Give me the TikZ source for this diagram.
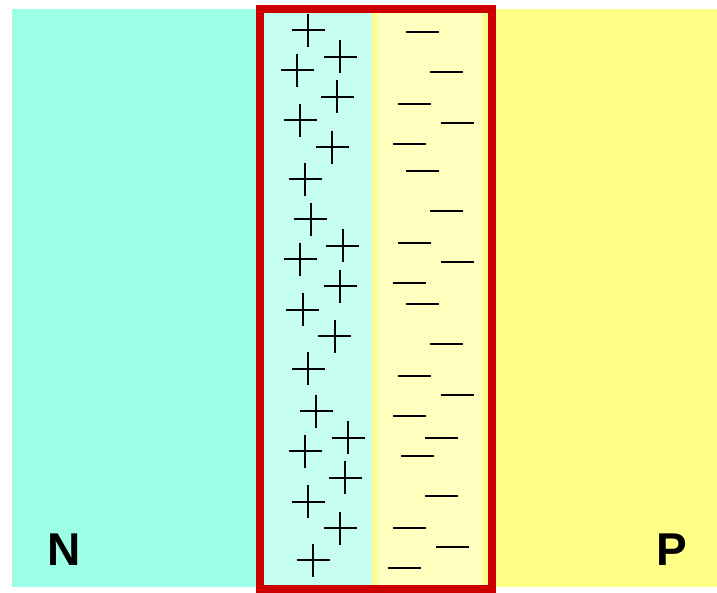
\documentclass[tikz,border=0pt]{standalone}
\usepackage{fontspec}
\setmainfont{Liberation Sans}
\definecolor{ncol}{RGB}{156,255,230}
\definecolor{ncolL}{RGB}{198,255,240}
\definecolor{pcol}{RGB}{255,255,136}
\definecolor{pcolL}{RGB}{255,255,192}
\definecolor{redframe}{RGB}{204,0,0}
\begin{document}
\begin{tikzpicture}[x=1pt,y=-1pt,
  charge/.style={black,line width=1.7pt},
  label/.style={font=\fontsize{46}{46}\selectfont\bfseries,inner sep=0pt,anchor=base}]
\useasboundingbox (0,0) rectangle (717,592);
\fill[white] (0,0) rectangle (717,592);
% regions
\fill[ncol] (12,9) rectangle (372,587);
\fill[pcol] (372,9) rectangle (717,587);
\fill[ncolL] (264,13) rectangle (372,585);
\fill[pcolL] (377,13) rectangle (483,585);
% plus charges
\foreach \x/\y in {308/30, 340/56.7, 297.3/70, 337.3/96.7, 300/120.3, 332/147, 305.3/179,
  310.7/219.3, 342.7/245.7, 300/259, 340/286, 302.7/309.7, 334.7/336.3, 308/368.7,
  316/411, 348/437.7, 305.3/451, 345.3/477.7, 308/501.7, 340/528.3, 313.3/560.3}
  \draw[charge] (\x-16.5,\y) -- (\x+16.5,\y) (\x,\y-16.5) -- (\x,\y+16.5);
% minus charges
\foreach \x/\y in {422.7/32.3, 446.7/72.3, 414.7/104.3, 457.3/123, 409.3/144.3, 422.7/171,
  446.7/211, 414.7/243, 457.3/261.7, 409.3/283, 422.7/304.3, 446.7/344.3, 414.7/376.3,
  457.3/395, 409.3/416.3, 441.3/437.7, 417.3/456.3, 441.3/496.3, 409.3/528.3, 452/547, 404/568.3}
  \draw[charge] (\x-16.5,\y) -- (\x+16.5,\y);
% depletion frame
\draw[redframe,line width=8pt] (260,9) rectangle (492,589);
% labels
\node[label] (nlab) at (64.5,565) {N};
\node[label] (plab) at (671.7,565) {P};
\end{tikzpicture}
\end{document}
